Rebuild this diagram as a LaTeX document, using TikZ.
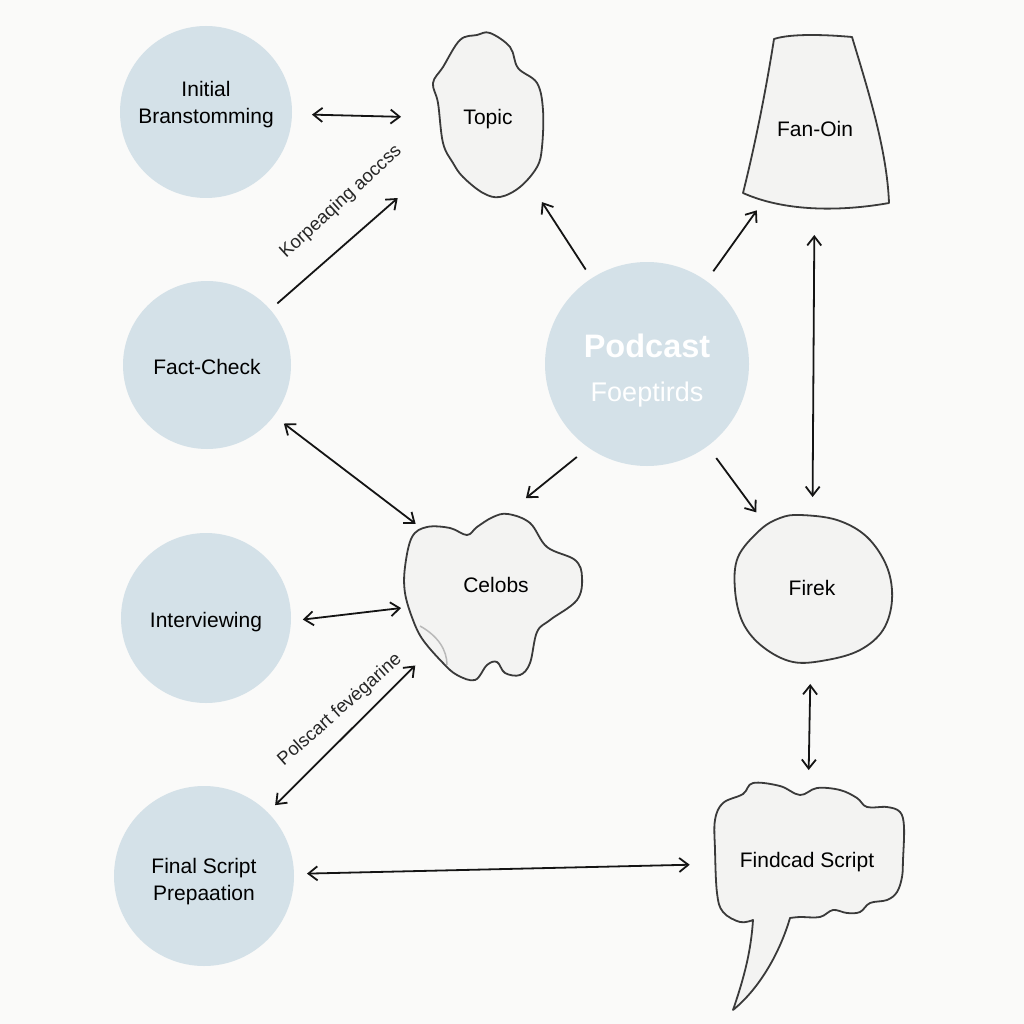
\documentclass[tikz,border=0pt]{standalone}
\usepackage{fontspec}
\setmainfont{Liberation Sans}
\usetikzlibrary{arrows.meta}
\definecolor{bg}{HTML}{FAFAF9}
\definecolor{circ}{HTML}{D4E1E8}
\definecolor{blobfill}{HTML}{F3F3F2}
\definecolor{blobline}{HTML}{3A3A3A}
\begin{document}
\begin{tikzpicture}[x=1pt,y=-1pt,
  stage/.style={circle, fill=circ, minimum size=#1, inner sep=0pt, outer sep=0pt},
  stagetext/.style={inner sep=0pt, align=center, font=\fontsize{21}{27}\selectfont},
  holder/.style={draw=none, inner sep=0pt, outer sep=0pt, align=center, font=\fontsize{21}{27}\selectfont},
  blob/.style={fill=blobfill, draw=blobline, line width=1.8pt, line join=round},
  arr/.style={draw=black!92, line width=1.8pt, -{Straight Barb[length=9pt,width=14pt]}},
  arrboth/.style={draw=black!92, line width=1.8pt, {Straight Barb[length=9pt,width=14pt]}-{Straight Barb[length=9pt,width=14pt]}},
  lbl/.style={inner sep=0pt, font=\fontsize{18.5}{22}\selectfont, text=black!85}
]
\fill[bg] (0,0) rectangle (1024,1024);
\useasboundingbox (0,0) rectangle (1024,1024);

% blob shapes
\filldraw[blob] plot[smooth cycle, tension=0.6] coordinates {
  (477,35) (490,33) (510,47) (518,68) (537,83) (543,110) (542,147) (537,167)
  (520,187) (500,197) (483,193) (463,177) (453,163) (443,143) (438,103) (433,83) (443,67) (460,40)};

\filldraw[blob] (774,39) .. controls (792,33) and (830,35) .. (852,37)
  .. controls (868,90) and (887,150) .. (889,203)
  .. controls (850,210) and (790,214) .. (743,193)
  .. controls (755,145) and (766,90) .. (774,39) -- cycle;

\filldraw[blob] plot[smooth cycle, tension=0.6] coordinates {
  (508,514) (530,523) (547,547) (575,560) (582,577) (577,600) (550,620) (537,632)
  (530,663) (520,675) (505,673) (497,662) (487,665) (475,680) (457,675) (443,663)
  (423,640) (413,620) (405,593) (405,567) (412,537) (427,527) (450,528) (467,535)
  (477,527) (493,517)};
\draw[gray!55, line width=1.5pt] (420,626) .. controls (438,636) and (447,650) .. (447,665);

\filldraw[blob] plot[smooth cycle, tension=0.6] coordinates {
  (800,515) (837,520) (867,537) (887,567) (892,600) (883,630) (860,650) (827,660)
  (793,662) (763,647) (743,623) (735,590) (738,557) (760,530) (780,518)};

\filldraw[blob] plot[smooth, tension=0.6] coordinates {
  (753,920) (740,922) (723,912) (717,893) (715,850) (715,820) (723,803) (743,794)
  (753,783) (780,786) (800,795) (817,788) (840,790) (857,798) (867,807) (887,807)
  (900,812) (904,827) (903,860) (902,877) (897,892) (887,900) (870,903) (860,912)
  (847,913) (833,910) (820,917) (800,917) (790,918)}
  .. controls (780,952) and (760,988) .. (733,1010)
  .. controls (745,975) and (751,950) .. (753,920) -- cycle;

% stage circles and their texts
\node[stage=172pt] (ib) at (206,112) {};
\node[stage=168pt] (fc) at (207,365) {};
\node[stage=170pt] (iv) at (206,618) {};
\node[stage=180pt] (fs) at (204,876) {};
\node[stage=204pt] (pc) at (647,364) {};

\node[stagetext] (ibt) at (206,105) {Initial\\Branstomming};
\node[stagetext] (fct) at (207,367) {Fact-Check};
\node[stagetext] (ivt) at (206,622) {Interviewing};
\node[stagetext] (fst) at (204,881.5) {Final Script\\Prepaation};
\node[stagetext, text=white, font=\fontsize{32.5}{36}\selectfont\bfseries] (pct1) at (647,346) {Podcast};
\node[stagetext, text=white, font=\fontsize{27}{30}\selectfont] (pct2) at (647,395) {Foeptirds};

% blob text holders
\node[holder, minimum width=111pt, minimum height=167pt] (topic) at (488,119) {Topic};
\node[holder, minimum width=146pt, minimum height=172pt] (fan) at (815,129) {Fan-Oin};
\node[holder, minimum width=180pt, minimum height=170pt] (celobs) at (496,585) {Celobs};
\node[holder, minimum width=157pt, minimum height=148pt] (firek) at (812,588) {Firek};
\node[holder, minimum width=192pt, minimum height=140pt] (fd) at (807,862) {Findcad Script};

% connectors
\draw[arrboth, shorten <=106pt, shorten >=87pt] (ib.center) -- (topic.center);
\draw[arr, shorten <=93.5pt, shorten >=120pt] (fc.center) -- (topic.center);
\draw[arr, shorten <=112.6pt, shorten >=99pt] (pc.center) -- (topic.center);
\draw[arr, shorten <=114pt, shorten >=100pt] (pc.center) -- (fan.center);
\draw[arrboth, shorten <=106pt, shorten >=91pt] (fan.center) -- (firek.center);
\draw[arr, shorten <=116.8pt, shorten >=94pt] (pc.center) -- (firek.center);
\draw[arr, shorten <=15pt, shorten >=3pt] (pc.235) -- (celobs.72);
\draw[arrboth, shorten <=96.6pt, shorten >=101pt] (fc.center) -- (celobs.center);
\draw[arrboth, shorten <=12pt, shorten >=5pt] (iv.358) -- (celobs.194);
\draw[arrboth, shorten <=100.4pt, shorten >=114pt] (fs.center) -- (celobs.center);
\draw[arrboth, shorten <=103pt, shorten >=117.3pt] (fs.center) -- (fd.center);
\draw[arrboth, shorten <=96pt, shorten >=92pt] (firek.center) -- (fd.center);

% connector labels
\node[lbl, rotate=42.5] (l1) at (341,202) {Korpeaqing aoccss};
\node[lbl, rotate=41.5] (l2) at (340,710) {Polscart fevėgarine};
\end{tikzpicture}
\end{document}
